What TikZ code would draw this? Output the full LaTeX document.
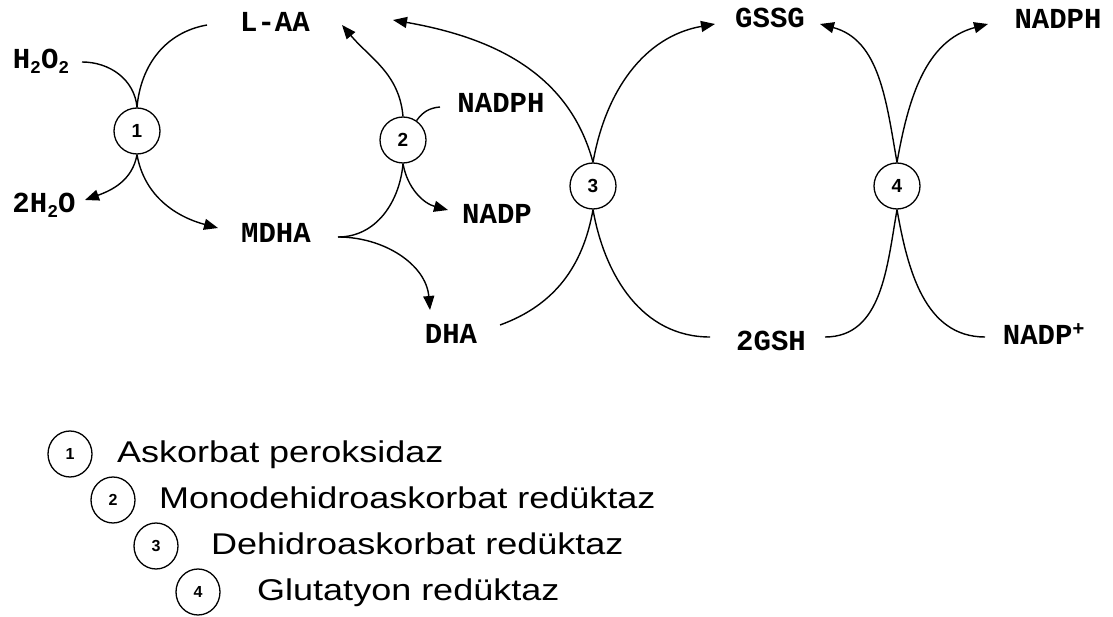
\documentclass[tikz,border=0pt]{standalone}
\usepackage{fontspec}
\setmonofont{Liberation Mono}
\newfontfamily\legfam{Liberation Sans}
\usetikzlibrary{arrows.meta,shapes.geometric}
\newcommand{\lowtxt}[1]{\raisebox{-0.35ex}{\fontsize{18}{18}\selectfont #1}}
\newcommand{\legendrow}[5]{
  \node[legcirc] (leg#1) at (#2,#3) {#1};
  \node[legtext] (legtxt#1) at (#4,#3-8) {\scalebox{1.2}[1]{#5}};
}
\tikzset{
  chem/.style={font=\fontsize{29}{30}\selectfont\ttfamily\bfseries, inner sep=0pt},
  enz/.style={circle, draw, line width=1.3pt, minimum size=46pt, inner sep=0pt,
    font=\fontsize{19}{19}\selectfont\legfam\bfseries},
  link/.style={line width=1.4pt},
  arr/.style={link, -{Triangle[length=14pt,width=11pt]}},
  legcirc/.style={ellipse, draw, line width=1.3pt, minimum width=44pt, minimum height=46pt,
    inner sep=0pt, font=\fontsize{16}{16}\selectfont\legfam\bfseries},
  legtext/.style={anchor=base west, inner sep=0pt, font=\fontsize{30}{32}\selectfont\legfam}
}
\begin{document}
\begin{tikzpicture}[x=1pt,y=1pt]
  \useasboundingbox (0,0) rectangle (1113,-617);
  % labels
  \node[chem] (h2o2) at (41,-61) {H\lowtxt{2}O\lowtxt{2}};
  \node[chem] (laa) at (275,-22) {L-AA};
  \node[chem] (wat) at (44,-205) {2H\lowtxt{2}O};
  \node[chem] (mdha) at (276,-233) {MDHA};
  \node[chem] (nadph1) at (501,-103) {NADPH};
  \node[chem] (nadp) at (497,-214) {NADP};
  \node[chem] (dha) at (451,-334) {DHA};
  \node[chem] (gssg) at (770,-18) {GSSG};
  \node[chem] (nadph2) at (1058,-19) {NADPH};
  \node[chem] (gsh) at (771,-341) {2GSH};
  \node[chem] (nadpp) at (1044,-334) {NADP\textsuperscript{+}};
  % enzymes
  \node[enz] (e1) at (137,-131) {1};
  \node[enz] (e2) at (403,-140) {2};
  \node[enz] (e3) at (593,-186) {3};
  \node[enz] (e4) at (897,-186) {4};
  \coordinate (fork) at ([shift={(62,-4)}]mdha.center);

  % 1
  \draw[link] ([shift={(41,-1)}]h2o2.center) to[out=0,in=95] (e1.north);
  \draw[link] ([shift={(-68,-3)}]laa.center) to[out=190,in=85] (e1.north);
  \draw[arr] (e1.south) to[out=-100,in=20] ([shift={(41,5)}]wat.center);
  \draw[arr] (e1.south) to[out=-80,in=165] ([shift={(-58,5)}]mdha.center);
  % 2
  \draw[arr] (e2.north) to[out=95,in=-50] ([shift={(67,-3)}]laa.center);
  \draw[link] ([shift={(-61,-4)}]nadph1.center) to[out=185,in=55] (e2.55);
  \draw[arr] (e2.south) to[out=-80,in=165] ([shift={(-49,4)}]nadp.center);
  \draw[link] (e2.south) to[out=-95,in=0] (fork);
  \draw[arr] (fork) to[out=0,in=95] ([shift={(-21,24)}]dha.center);
  % 3
  \draw[arr] (e3.north) to[out=105,in=-10] ([shift={(118,2)}]laa.center);
  \draw[arr] (e3.north) to[out=80,in=190] ([shift={(-55,-6)}]gssg.center);
  \draw[link] ([shift={(49,9)}]dha.center) to[out=20,in=-100] (e3.south);
  \draw[link] ([shift={(-61,4)}]gsh.center) to[out=180,in=-80] (e3.south);
  % 4
  \draw[arr] (e4.north) to[out=100,in=-15] ([shift={(50,-6)}]gssg.center);
  \draw[arr] (e4.north) to[out=80,in=195] ([shift={(-70,-5)}]nadph2.center);
  \draw[link] ([shift={(54,4)}]gsh.center) to[out=0,in=-100] (e4.south);
  \draw[link] ([shift={(-59,-3)}]nadpp.center) to[out=180,in=-80] (e4.south);

  % legend
  \legendrow{1}{70}{-454}{117}{Askorbat peroksidaz}
  \legendrow{2}{113}{-500}{159}{Monodehidroaskorbat redüktaz}
  \legendrow{3}{156}{-546}{211}{Dehidroaskorbat redüktaz}
  \legendrow{4}{198}{-592}{257}{Glutatyon redüktaz}
\end{tikzpicture}
\end{document}
